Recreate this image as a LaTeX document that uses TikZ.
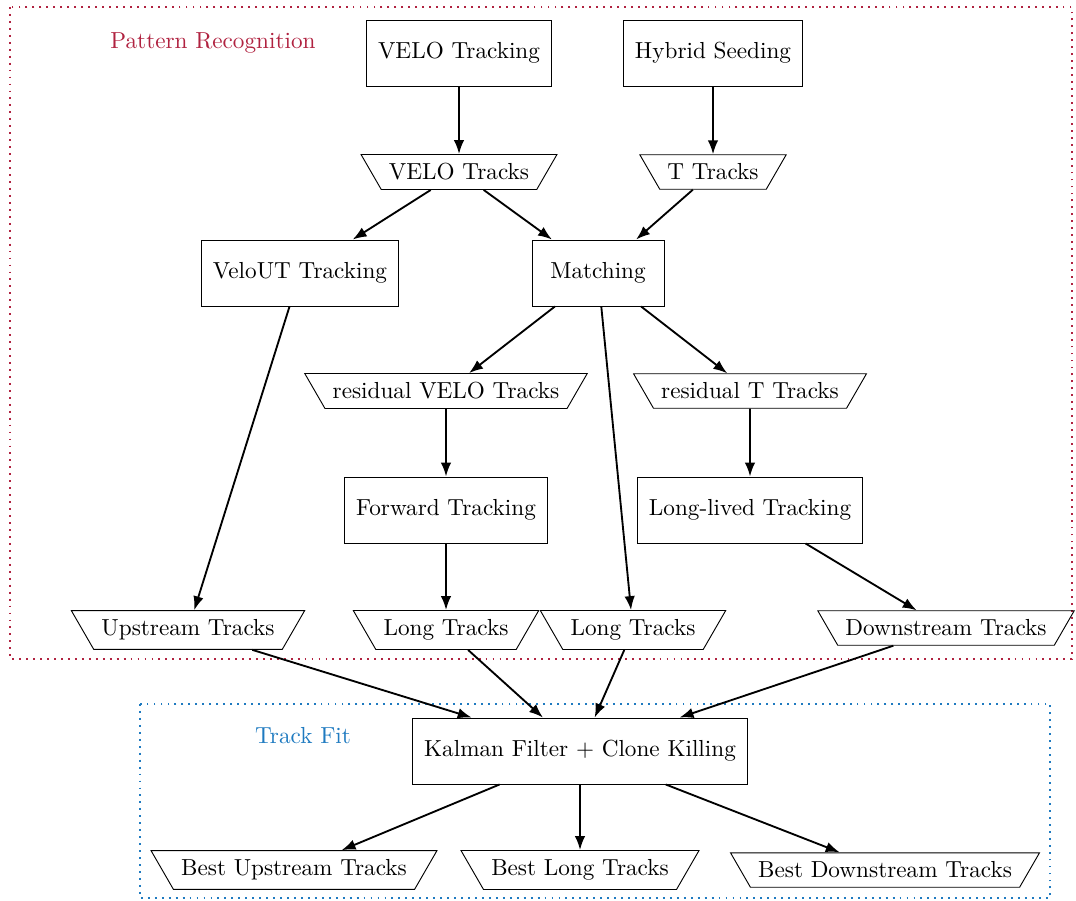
\documentclass[tikz,border=0pt]{standalone}
\usetikzlibrary{shapes.geometric,arrows.meta}
\definecolor{prcol}{RGB}{176,34,64}
\definecolor{fitcol}{RGB}{30,122,192}
\begin{document}
\begin{tikzpicture}[x=0.431pt,y=-0.431pt,
  proc/.style={draw, rectangle, minimum width=2cm, minimum height=1cm, inner xsep=5pt},
  data/.style={draw, trapezium, shape border rotate=180,
    trapezium left angle=60, trapezium right angle=60, inner ysep=3.9pt},
  arr/.style={-{Latex[length=6pt,width=4.5pt]}, thick},
  region/.style={thick, dash pattern=on 0.8pt off 2.2pt},
  lbl/.style={inner sep=0pt}]
\useasboundingbox (0,0) rectangle (1076,900);

% stage frames
\draw[region, prcol] (10,7) rectangle (1072,659);
\draw[region, fitcol] (140,704) rectangle (1050,898);
\node[lbl, text=prcol] (prlabel) at (213,43) {Pattern Recognition};
\node[lbl, text=fitcol] (fitlabel) at (303,736) {Track Fit};

% pattern recognition
\node[proc] (velo) at (459,53) {VELO Tracking};
\node[proc] (hybrid) at (713,53) {Hybrid Seeding};
\node[data] (velotr) at (459,172) {VELO Tracks};
\node[data] (ttr) at (713,172) {T Tracks};
\node[proc] (velout) at (300,273) {VeloUT Tracking};
\node[proc] (match) at (598,273) {Matching};
\node[data] (resvelo) at (446,391) {residual VELO Tracks};
\node[data] (rest) at (750,391) {residual T Tracks};
\node[proc] (fwd) at (446,510) {Forward Tracking};
\node[proc] (ll) at (750,510) {Long-lived Tracking};
\node[data] (upstr) at (188,630) {Upstream Tracks};
\node[data] (longa) at (446,630) {Long Tracks};
\node[data] (longb) at (633,630) {Long Tracks};
\node[data] (down) at (946,628) {Downstream Tracks};

% track fit
\node[proc] (kalman) at (580,751) {Kalman Filter + Clone Killing};
\node[data] (bup) at (294,870) {Best Upstream Tracks};
\node[data] (blong) at (580,870) {Best Long Tracks};
\node[data] (bdown) at (885,870) {Best Downstream Tracks};

% connectors
\draw[arr] (velo) -- (velotr);
\draw[arr] (hybrid) -- (ttr);
\draw[arr] (velotr) -- (velout);
\draw[arr] (velotr) -- (match);
\draw[arr] (ttr) -- (match);
\draw[arr] (velout) -- (upstr);
\draw[arr] (match) -- (resvelo);
\draw[arr] (match) -- (longb);
\draw[arr] (match) -- (rest);
\draw[arr] (resvelo) -- (fwd);
\draw[arr] (rest) -- (ll);
\draw[arr] (fwd) -- (longa);
\draw[arr] (ll) -- (down);
\draw[arr] (upstr) -- (kalman);
\draw[arr] (longa) -- (kalman);
\draw[arr] (longb) -- (kalman);
\draw[arr] (down) -- (kalman);
\draw[arr] (kalman) -- (bup);
\draw[arr] (kalman) -- (blong);
\draw[arr] (kalman) -- (bdown);
\end{tikzpicture}
\end{document}
